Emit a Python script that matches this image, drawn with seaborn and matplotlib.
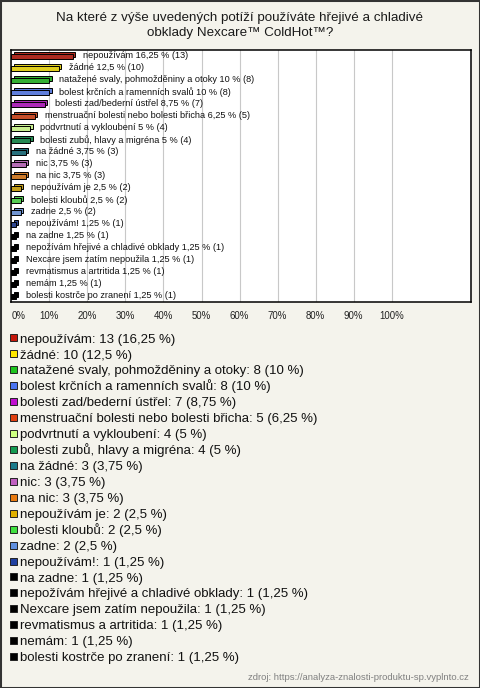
import matplotlib
matplotlib.use("Agg")
import matplotlib.pyplot as plt
import matplotlib.transforms as mtransforms
from matplotlib.patches import Rectangle
import seaborn as sns
import pandas as pd

# ---------------- data ----------------
categories = [
    "nepoužívám",
    "žádné",
    "natažené svaly, pohmožděniny a otoky",
    "bolest krčních a ramenních svalů",
    "bolesti zad/bederní ústřel",
    "menstruační bolesti nebo bolesti břicha",
    "podvrtnutí a vykloubení",
    "bolesti zubů, hlavy a migréna",
    "na žádné",
    "nic",
    "na nic",
    "nepoužívám je",
    "bolesti kloubů",
    "zadne",
    "nepoužívám!",
    "na zadne",
    "nepožívám hřejivé a chladivé obklady",
    "Nexcare jsem zatím nepoužila",
    "revmatismus a artritida",
    "nemám",
    "bolesti kostrče po zranení",
]
counts = [13, 10, 8, 8, 7, 5, 4, 4, 3, 3, 3, 2, 2, 2, 1, 1, 1, 1, 1, 1, 1]
percents = [16.25, 12.5, 10, 10, 8.75, 6.25, 5, 5, 3.75, 3.75, 3.75,
            2.5, 2.5, 2.5, 1.25, 1.25, 1.25, 1.25, 1.25, 1.25, 1.25]
colors = [
    "#c4170a", "#ffe800", "#1ec41e", "#4a74f0", "#c010d0", "#e04010",
    "#ccff80", "#139a50", "#1a7a8a", "#c060c0", "#e87a10", "#e0b000",
    "#40e040", "#6090e0", "#2040a0", "#000000", "#000000", "#000000",
    "#000000", "#000000", "#000000",
]
x_ticks = [0, 10, 20, 30, 40, 50, 60, 70, 80, 90, 100]
x_tick_labels = ["0%", "10%", "20%", "30%", "40%", "50%", "60%", "70%",
                 "80%", "90%", "100%"]
title_lines = ["Na které z výše uvedených potíží používáte hřejivé a chladivé",
               "obklady Nexcare™ ColdHot™?"]
source_text = "zdroj: https://analyza-znalosti-produktu-sp.vyplnto.cz"


def fmt(p):
    return f"{p:g}".replace(".", ",")


# ---------------- style ----------------
plt.rcParams["font.family"] = ["Liberation Sans", "DejaVu Sans"]
BG = "#f4f3ec"
W, H = 480, 688

fig = plt.figure(figsize=(W / 100, H / 100), dpi=100)
fig.patch.set_facecolor(BG)

ax_left, ax_right, ax_top, ax_bot = 11.3, 470.7, 50, 302
ax = fig.add_axes([ax_left / W, 1 - ax_bot / H, (ax_right - ax_left) / W,
                   (ax_bot - ax_top) / H])
ax.set_facecolor("white")

df = pd.DataFrame({"cat": categories, "pct": percents})

# back (depth) face of 3D bars
sns.barplot(data=df, x="pct", y="cat", hue="cat", palette=colors,
            width=0.45, edgecolor="black", linewidth=0.7, legend=False,
            orient="h", ax=ax)
n_back = len(ax.patches)
for p in ax.patches[:n_back]:
    p.set_transform(ax.transData +
                    mtransforms.ScaledTranslation(2.2 / 100, 1.8 / 100,
                                                  fig.dpi_scale_trans))
# front face
sns.barplot(data=df, x="pct", y="cat", hue="cat", palette=colors,
            width=0.45, edgecolor="black", linewidth=0.7, legend=False,
            orient="h", ax=ax)
for p in ax.patches[n_back:]:
    p.set_transform(ax.transData +
                    mtransforms.ScaledTranslation(0, -0.8 / 100,
                                                  fig.dpi_scale_trans))

ax.set_xlim(0, (ax_right - ax_left) / 3.804)
ax.set_ylim(len(categories) - 0.5, -0.5)
ax.set_xticks(x_ticks)
ax.set_xticklabels(x_tick_labels, fontsize=6.9, color="#222222")
ax.get_xticklabels()[0].set_ha("left")
ax.tick_params(axis="x", length=0, pad=6.3)
ax.set_yticks([])
ax.set_xlabel("")
ax.set_ylabel("")
ax.grid(axis="x", color="#c8c8c8", linewidth=0.8)
ax.grid(axis="y", visible=False)
ax.set_axisbelow(True)
for s in ax.spines.values():
    s.set_color("black")
    s.set_linewidth(1.1)

# bar labels
for i, (cat, p, n) in enumerate(zip(categories, percents, counts)):
    ax.annotate(f"{cat} {fmt(p)} % ({n})", xy=(p, i), xytext=(7.2, 0),
                textcoords="offset points", va="center", ha="left",
                fontsize=6.6, color="#111111")

# title
fig.text(0.5, 1 - 18 / H, title_lines[0], ha="center", va="center",
         fontsize=9.6, color="#1a1a1a")
fig.text(0.5, 1 - 33 / H, title_lines[1], ha="center", va="center",
         fontsize=9.6, color="#1a1a1a")

# legend (manual, below chart)
for i, (cat, p, n, c) in enumerate(zip(categories, percents, counts, colors)):
    y = 338 + i * 15.93
    fig.patches.append(Rectangle((9.8 / W, 1 - (y + 3.5) / H), 7 / W, 7 / H,
                                 transform=fig.transFigure, facecolor=c,
                                 edgecolor="#222222", linewidth=0.7))
    fig.text(20 / W, 1 - (y + 4.6) / H, f"{cat}: {n} ({fmt(p)} %)",
             ha="left", va="baseline", fontsize=9.5, color="#111111")

# source
fig.text(469 / W, 1 - 677 / H, source_text, ha="right", va="center",
         fontsize=6.8, color="#808080")

# outer border
fig.patches.append(Rectangle((0, 0), 1, 1, transform=fig.transFigure,
                             fill=False, edgecolor="#333333", linewidth=2.2))

fig.savefig("out.png", dpi=100, facecolor=fig.get_facecolor())
